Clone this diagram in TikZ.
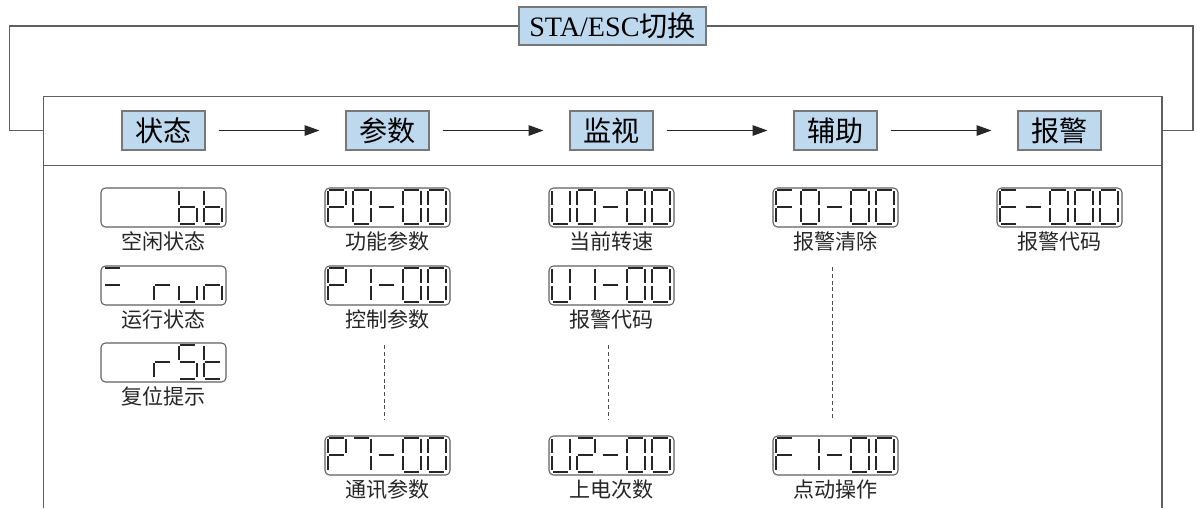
\documentclass[tikz,border=0pt]{standalone}
\usepackage{fontspec}
\setmainfont{Liberation Serif}
\newfontfamily\cjk{Noto Sans CJK SC}
\usetikzlibrary{arrows.meta,positioning}

\definecolor{boxblue}{RGB}{190,216,238}
\definecolor{boxedge}{RGB}{120,120,120}
\definecolor{wiregray}{RGB}{95,95,95}

% segment lists of the display glyphs
\newcommand\sgblank{x}
\newcommand\sgzero{a,b,c,d,e,f}
\newcommand\sgone{b,c}
\newcommand\sgtwo{a,b,d,e,g}
\newcommand\sgseven{a,b,c}
\newcommand\sgdash{g}
\newcommand\sgeq{a,g}
\newcommand\sgP{a,b,e,f,g}
\newcommand\sgU{b,c,d,e,f}
\newcommand\sgF{a,e,f,g}
\newcommand\sgE{a,d,e,f,g}
\newcommand\sgS{a,c,d,f,g}
\newcommand\sgb{c,d,e,f,g}
\newcommand\sgr{e,g}
\newcommand\sgu{c,d,e}
\newcommand\sgn{c,e,g}
\newcommand\sgt{d,e,f,g}

% one segment, glyph cell left edge at #1
\newcommand\lcdseg[2]{%
  \if#2a\draw[lcdline] (#1+1.5,2.5) -- (#1+16.5,2.5);\fi
  \if#2b\draw[lcdline] (#1+18,4) -- (#1+18,18);\fi
  \if#2c\draw[lcdline] (#1+18,21) -- (#1+18,35);\fi
  \if#2d\draw[lcdline] (#1+1.5,36.5) -- (#1+16.5,36.5);\fi
  \if#2e\draw[lcdline] (#1,21) -- (#1,35);\fi
  \if#2f\draw[lcdline] (#1,4) -- (#1,18);\fi
  \if#2g\draw[lcdline] (#1+1.5,19.5) -- (#1+16.5,19.5);\fi}

% display: name, centre, five glyphs
\newcommand\lcd[3]{%
  \node[lcdbox] (#1) at (#2) {};
  \begin{scope}[shift={(#1.north west)}]
    \foreach \glyph [count=\k] in {#3} {%
      \edef\segs{\glyph}%
      \pgfmathsetmacro\gx{3.5+25*(\k-1)}%
      \foreach \s in \segs {\lcdseg{\gx}{\s}}}
  \end{scope}}

\begin{document}
\begin{tikzpicture}[x=0.02cm,y=-0.02cm]
\tikzset{
  headbox/.style={draw=boxedge,fill=boxblue,line width=0.6pt,minimum width=1.66cm,minimum height=0.78cm,inner sep=0pt,font=\cjk\fontsize{16}{19}\selectfont},
  lcdbox/.style={draw=wiregray,line width=0.6pt,rounded corners=2.5pt,minimum width=2.5cm,minimum height=0.78cm,inner sep=0pt},
  lcdline/.style={line width=0.8pt,black!85},
  lcdtext/.style={inner sep=0pt,text=black!85,font=\cjk\fontsize{12}{14}\selectfont},
  flow/.style={-{Triangle[length=8.5pt,width=6pt]},line width=0.6pt,black!85,shorten <=0.26cm,shorten >=0.52cm},
  wire/.style={line width=0.6pt,wiregray},
  dotline/.style={dashed,dash pattern=on 2.2pt off 1.6pt,line width=0.4pt,black!70,shorten <=0.31cm,shorten >=0.31cm}
}
\useasboundingbox (0,0) rectangle (1197,508);

% frame and header band
\draw[wire] (43.5,508) -- (43.5,96.5) -- (1162,96.5) -- (1162,508);
\draw[wire] (43.5,165.5) -- (1162,165.5);
\coordinate (c_l) at (43.5,130.5);
\coordinate (c_r) at (1162,130.5);
\coordinate (c_outl) at (9.5,130.5);
\coordinate (c_outr) at (1193,130.5);

\node[headbox,font=\fontsize{16}{19}\selectfont,minimum width=3.74cm,minimum height=0.76cm] (n_sta) at (612.5,26) {STA/ESC{\cjk 切换}};
\draw[wire] (n_sta.west) -| (c_outl) -- (c_l);
\draw[wire] (n_sta.east) -| (c_outr) -- (c_r);

\node[headbox] (n_state) at (163.5,130.5) {状态};
\node[headbox] (n_param) at (387.5,130.5) {参数};
\node[headbox] (n_watch) at (611.5,130.5) {监视};
\node[headbox] (n_aux) at (835.5,130.5) {辅助};
\node[headbox] (n_alarm) at (1059.5,130.5) {报警};
\draw[flow] (n_state) -- (n_param);
\draw[flow] (n_param) -- (n_watch);
\draw[flow] (n_watch) -- (n_aux);
\draw[flow] (n_aux) -- (n_alarm);

% displays
\lcd{d_bb}{163.5,207.5}{\sgblank,\sgblank,\sgblank,\sgb,\sgb}
\lcd{d_run}{163.5,285.5}{\sgeq,\sgblank,\sgr,\sgu,\sgn}
\lcd{d_rst}{163.5,362.5}{\sgblank,\sgblank,\sgr,\sgS,\sgt}
\lcd{d_P0}{387.5,207.5}{\sgP,\sgzero,\sgdash,\sgzero,\sgzero}
\lcd{d_P1}{387.5,285.5}{\sgP,\sgone,\sgdash,\sgzero,\sgzero}
\lcd{d_P7}{387.5,455.5}{\sgP,\sgseven,\sgdash,\sgzero,\sgzero}
\lcd{d_U0}{611.5,207.5}{\sgU,\sgzero,\sgdash,\sgzero,\sgzero}
\lcd{d_U1}{611.5,285.5}{\sgU,\sgone,\sgdash,\sgzero,\sgzero}
\lcd{d_U2}{611.5,455.5}{\sgU,\sgtwo,\sgdash,\sgzero,\sgzero}
\lcd{d_F0}{835.5,207.5}{\sgF,\sgzero,\sgdash,\sgzero,\sgzero}
\lcd{d_F1}{835.5,455.5}{\sgF,\sgone,\sgdash,\sgzero,\sgzero}
\lcd{d_E}{1059.5,207.5}{\sgE,\sgdash,\sgzero,\sgzero,\sgzero}

\node[lcdtext,below=0.08cm of d_bb] (t_bb) {空闲状态};
\node[lcdtext,below=0.08cm of d_run] (t_run) {运行状态};
\node[lcdtext,below=0.08cm of d_rst] (t_rst) {复位提示};
\node[lcdtext,below=0.08cm of d_P0] (t_P0) {功能参数};
\node[lcdtext,below=0.08cm of d_P1] (t_P1) {控制参数};
\node[lcdtext,below=0.08cm of d_P7] (t_P7) {通讯参数};
\node[lcdtext,below=0.08cm of d_U0] (t_U0) {当前转速};
\node[lcdtext,below=0.08cm of d_U1] (t_U1) {报警代码};
\node[lcdtext,below=0.08cm of d_U2] (t_U2) {上电次数};
\node[lcdtext,below=0.08cm of d_F0] (t_F0) {报警清除};
\node[lcdtext,below=0.08cm of d_F1] (t_F1) {点动操作};
\node[lcdtext,below=0.08cm of d_E] (t_E) {报警代码};

\draw[dotline] ([xshift=-0.07cm]t_P1.south) -- ([xshift=-0.07cm]d_P7.north);
\draw[dotline] ([xshift=-0.07cm]t_U1.south) -- ([xshift=-0.07cm]d_U2.north);
\draw[dotline] ([xshift=-0.07cm]t_F0.south) -- ([xshift=-0.07cm]d_F1.north);
\end{tikzpicture}
\end{document}
